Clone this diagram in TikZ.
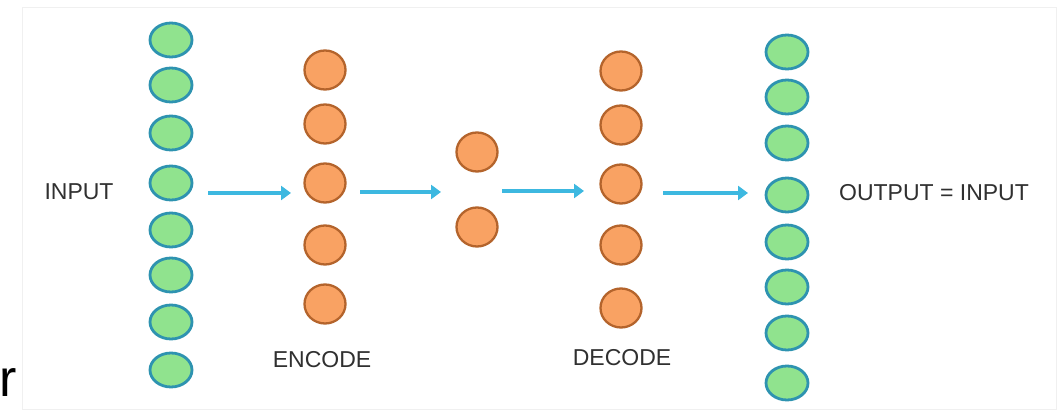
\documentclass[tikz,border=0pt]{standalone}
\usepackage{fontspec}
\setmainfont{Liberation Sans}
\usetikzlibrary{shapes.geometric,arrows.meta}
\definecolor{gfill}{HTML}{90E38E}
\definecolor{gline}{HTML}{2E93B0}
\definecolor{ofill}{HTML}{F9A263}
\definecolor{oline}{HTML}{B4642C}
\definecolor{arr}{HTML}{3DB8E0}
\definecolor{txt}{HTML}{303030}
\begin{document}
\begin{tikzpicture}[x=1pt,y=-1pt,
  gnode/.style={ellipse,draw=gline,fill=gfill,line width=2.8pt,minimum width=42pt,minimum height=34pt,inner sep=0pt},
  onode/.style={ellipse,draw=oline,fill=ofill,line width=2.3pt,minimum width=41pt,minimum height=39pt,inner sep=0pt},
  lbl/.style={text=txt,font=\fontsize{23}{26}\selectfont,inner sep=0pt},
  flow/.style={draw=arr,line width=4.4pt,-{Triangle[length=10pt,width=14pt]}}]
\useasboundingbox (0,0) rectangle (1060,411);
\fill[white] (0,0) rectangle (1060,411);
\draw[gray!12,line width=1pt] (22,8) rectangle (1056,409);
% input column
\foreach \y [count=\i] in {40,85,133,183,230,275,322,370}
  \node[gnode] (in\i) at (171,\y) {};
% encoder
\foreach \y [count=\i] in {70,124,183,245,304}
  \node[onode] (en\i) at (325,\y) {};
% latent
\node[onode] (la1) at (477,152) {};
\node[onode] (la2) at (477,227) {};
% decoder
\foreach \y [count=\i] in {71,125,184,245,308}
  \node[onode] (de\i) at (621,\y) {};
% output column
\foreach \y [count=\i] in {52,97,143,195,242,287,333,383}
  \node[gnode] (out\i) at (787,\y) {};
% labels
\node[lbl] (lin) at (79,192) {INPUT};
\node[lbl] (lenc) at (322,360) {ENCODE};
\node[lbl] (ldec) at (622,358) {DECODE};
\node[lbl] (lout) at (934,193) {OUTPUT = INPUT};
\node[text=black,font=\fontsize{52}{56}\selectfont,inner sep=0pt,anchor=base west] (rr) at (-1,396) {r};
% arrows
\coordinate (a1s) at (208,193); \coordinate (a1e) at (291,193);
\coordinate (a2s) at (360,192); \coordinate (a2e) at (441,192);
\coordinate (a3s) at (502,191); \coordinate (a3e) at (584,191);
\coordinate (a4s) at (663,193); \coordinate (a4e) at (748,193);
\draw[flow] (a1s) -- (a1e);
\draw[flow] (a2s) -- (a2e);
\draw[flow] (a3s) -- (a3e);
\draw[flow] (a4s) -- (a4e);
\end{tikzpicture}
\end{document}
